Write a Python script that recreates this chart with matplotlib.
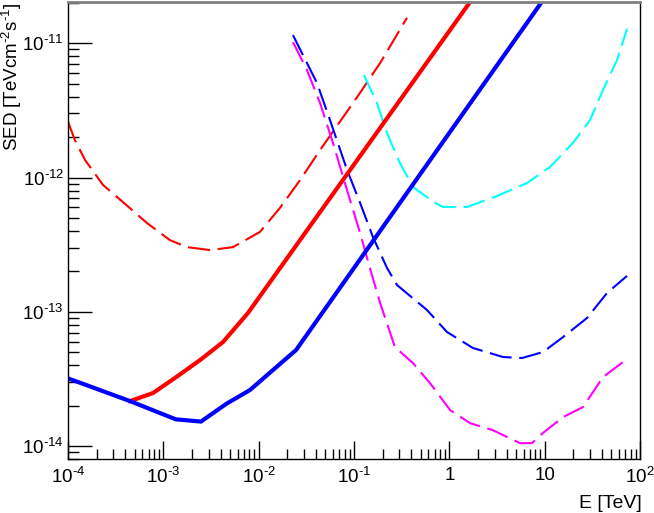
import matplotlib
matplotlib.use('Agg')
import matplotlib.pyplot as plt
from matplotlib.ticker import LogLocator, NullFormatter, FixedLocator, FixedFormatter

plt.rcParams['font.family'] = ['Liberation Sans', 'DejaVu Sans']
plt.rcParams['mathtext.fontset'] = 'custom'
plt.rcParams['mathtext.rm'] = 'Liberation Sans'
plt.rcParams['mathtext.it'] = 'Liberation Sans'
plt.rcParams['lines.scale_dashes'] = False

# red dashed
red_dash_e = [1e-4, 1.18e-4, 1.51e-4, 2.33e-4, 3.27e-4, 6.74e-4, 1.17e-3, 1.77e-3, 3.09e-3,
              5.38e-3, 1.03e-2, 1.67e-2, 2.72e-2, 4.40e-2, 0.108, 0.188, 0.360]
red_dash_s = [2.61e-12, 1.90e-12, 1.35e-12, 8.8e-13, 7.16e-13, 4.58e-13, 3.42e-13, 3.03e-13, 2.88e-13,
              3.03e-13, 3.93e-13, 5.93e-13, 9.57e-13, 1.60e-12, 3.98e-12, 7.13e-12, 1.55e-11]

# red solid
red_e = [4.47e-4, 7.79e-4, 1.38e-3, 2.43e-3, 4.23e-3, 7.73e-3, 1.65]
red_s = [2.16e-14, 2.48e-14, 3.28e-14, 4.37e-14, 5.95e-14, 9.8e-14, 2.03e-11]

# blue solid
blue_e = [1e-4, 4.47e-4, 1.35e-3, 2.48e-3, 4.62e-3, 8.1e-3, 1.29e-2, 2.47e-2, 9.31]
blue_s = [3.19e-14, 2.16e-14, 1.58e-14, 1.52e-14, 2.07e-14, 2.61e-14, 3.48e-14, 5.19e-14, 2.03e-11]

# blue dashed
blue_dash_e = [2.29e-2, 3.21e-2, 4.09e-2, 5.6e-2, 8.45e-2, 0.116, 0.158, 0.222, 0.283, 0.583,
               0.946, 1.77, 3.66, 5.78, 9.6, 15.6, 27.8, 45.1, 73.1]
blue_dash_s = [1.15e-11, 7.13e-12, 5.06e-12, 2.68e-12, 1.14e-12, 6.46e-13, 3.60e-13, 2.12e-13, 1.58e-13,
               1.03e-13, 7.06e-14, 5.37e-14, 4.60e-14, 4.52e-14, 5.01e-14, 6.48e-14, 8.98e-14, 1.38e-13, 1.85e-13]

# magenta dashed
mag_e = [2.29e-2, 3.21e-2, 4.40e-2, 6.02e-2, 8.45e-2, 0.116, 0.147, 0.188, 0.269, 0.416, 0.627,
         1.02, 1.65, 2.87, 5.51, 7.36, 9.6, 15.6, 25.2, 40.9, 66.4]
mag_s = [1.02e-11, 6.33e-12, 3.59e-12, 1.81e-12, 8.07e-13, 3.85e-13, 2.11e-13, 1.16e-13, 5.45e-14,
         4.14e-14, 2.94e-14, 1.85e-14, 1.48e-14, 1.31e-14, 1.05e-14, 1.05e-14, 1.25e-14, 1.64e-14,
         1.95e-14, 3.26e-14, 4.22e-14]

# cyan dashed
cyan_e = [0.127, 0.174, 0.222, 0.304, 0.416, 0.708, 0.859, 1.53, 3.16, 6.53, 11.4, 19.8, 29.9,
          40.9, 57.4, 73.1]
cyan_s = [5.81e-12, 3.59e-12, 2.14e-12, 1.28e-12, 8.49e-13, 6.46e-13, 6.03e-13, 6.03e-13, 7.28e-13,
          9.1e-13, 1.20e-12, 1.81e-12, 2.68e-12, 4.49e-12, 7.5e-12, 1.28e-11]

xticks = [1e-4, 1e-3, 1e-2, 1e-1, 1, 10, 100]
xtick_labels = ['$10^{\u20104}$', '$10^{\u20103}$', '$10^{\u20102}$', '$10^{\u20101}$', '1', '10', '$10^{2}$']
yticks = [1e-14, 1e-13, 1e-12, 1e-11]
ytick_labels = ['$10^{\u201014}$', '$10^{\u201013}$', '$10^{\u201012}$', '$10^{\u201011}$']

fig = plt.figure(figsize=(6.54, 5.13), dpi=100)
ax = fig.add_axes([68 / 654, 1 - 459 / 513, 572 / 654, 457 / 513])

dash = (16, 5.5)
ax.plot(red_dash_e, red_dash_s, color='#ff0000', lw=1.5, dashes=dash)
ax.plot(cyan_e, cyan_s, color='#00ffff', lw=1.5, dashes=dash)
ax.plot(blue_dash_e, blue_dash_s, color='#0000ff', lw=1.5, dashes=dash)
ax.plot(mag_e, mag_s, color='#ff00ff', lw=1.5, dashes=dash)
ax.plot(red_e, red_s, color='#ff0000', lw=3.0)
ax.plot(blue_e, blue_s, color='#0000ff', lw=3.0)

ax.set_xscale('log')
ax.set_yscale('log')
ax.set_xlim(1e-4, 100)
ax.set_ylim(8e-15, 2.03e-11)

ax.xaxis.set_major_locator(FixedLocator(xticks))
ax.xaxis.set_major_formatter(FixedFormatter(xtick_labels))
ax.yaxis.set_major_locator(FixedLocator(yticks))
ax.yaxis.set_major_formatter(FixedFormatter(ytick_labels))
ax.xaxis.set_minor_locator(LogLocator(base=10, subs=range(2, 10), numticks=20))
ax.yaxis.set_minor_locator(LogLocator(base=10, subs=range(2, 10), numticks=20))
ax.xaxis.set_minor_formatter(NullFormatter())
ax.yaxis.set_minor_formatter(NullFormatter())

ax.tick_params(axis='both', which='both', direction='in', top=False, right=False,
               labelsize=13.5, width=1, color='black')
ax.tick_params(axis='x', which='major', length=13, pad=6)
ax.tick_params(axis='x', which='minor', length=7)
ax.tick_params(axis='y', which='major', length=17, pad=3)
ax.tick_params(axis='y', which='minor', length=8)

for side in ['left', 'bottom', 'right']:
    ax.spines[side].set_color('black')
    ax.spines[side].set_linewidth(1)
ax.spines['top'].set_color('#808080')
ax.spines['top'].set_linewidth(2)

fig.text(642 / 654, 1 - 503 / 513, 'E [TeV]', ha='right', va='center', fontsize=14)
fig.text(11.5 / 654, 1 - 3 / 513, 'SED [TeVcm$^{\u20102}$s$^{\u20101}$]', ha='center', va='top',
         rotation=90, fontsize=13.5)

fig.savefig('out.png', dpi=100)
